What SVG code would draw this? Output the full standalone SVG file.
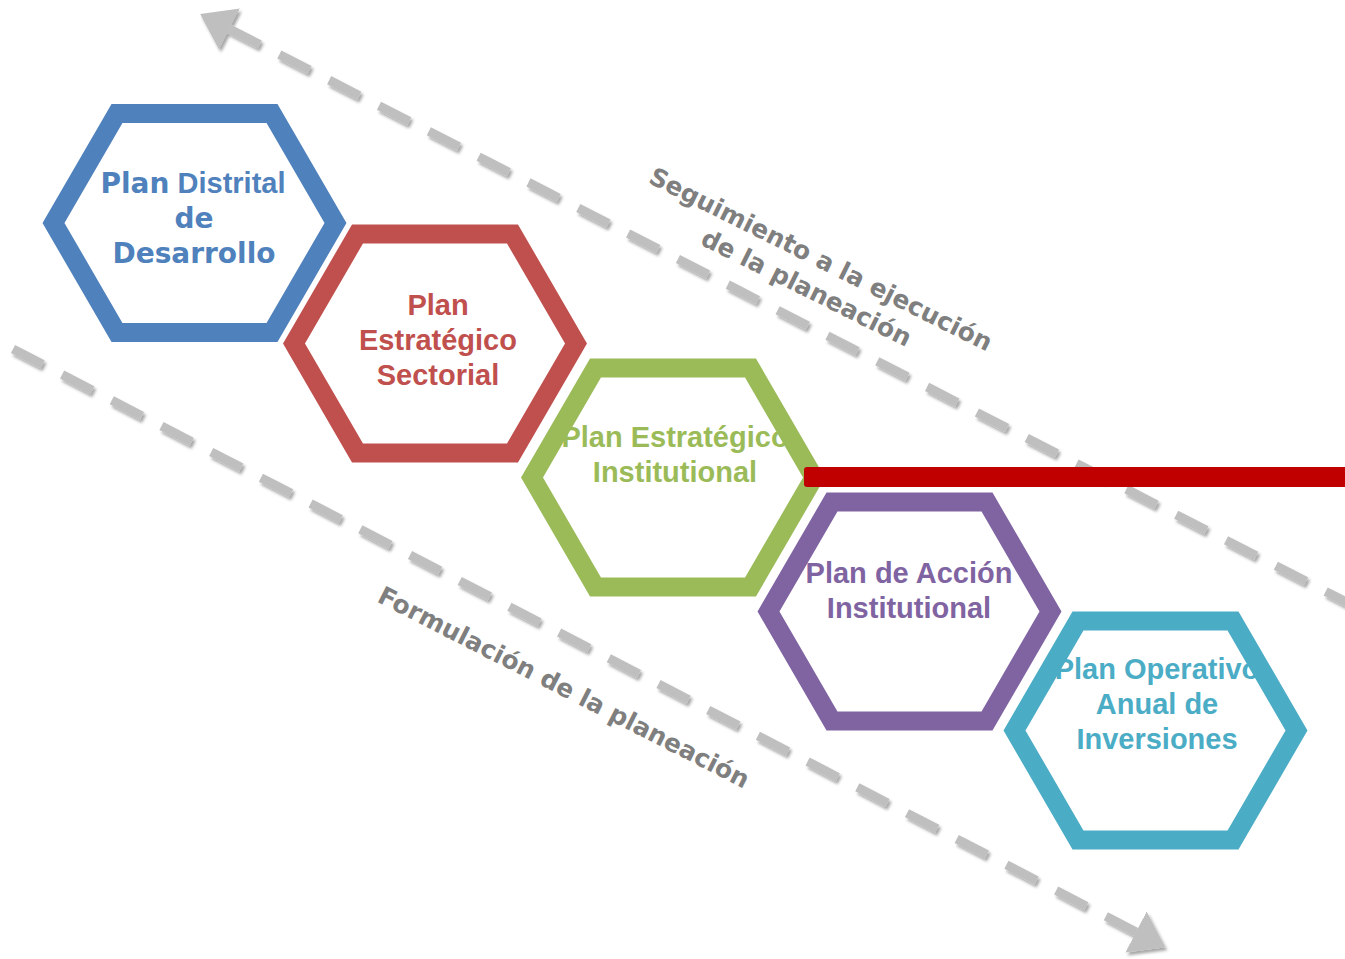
<svg xmlns="http://www.w3.org/2000/svg" xmlns:xlink="http://www.w3.org/1999/xlink" width="1345" height="959" viewBox="0 0 1345 959">
<style>
.bg{fill:#ffffff}
.hex{fill:none;stroke-width:19;stroke-linejoin:miter}
.dash{fill:none;stroke:#bfbfbf;stroke-width:9;stroke-dasharray:34 22}
.lbl{font-family:"Liberation Sans",Arial,sans-serif;font-weight:bold;font-size:29px;text-anchor:middle}
.ver{font-family:"DejaVu Sans",Verdana,sans-serif;font-weight:bold;font-size:28px}
.side{font-family:"DejaVu Sans",Verdana,sans-serif;font-weight:bold;fill:#7f7f7f;text-anchor:middle}
</style>
<defs>
<polygon id="hex" points="-141,0 -77.5,-109.5 77.5,-109.5 141,0 77.5,109.5 -77.5,109.5"/>
<marker id="ah" markerUnits="userSpaceOnUse" markerWidth="40" markerHeight="50" viewBox="0 -25 40 50" refX="0" refY="0" orient="auto-start-reverse">
<path d="M0,-23 L33,0 L0,23 Z" fill="#bfbfbf"/>
</marker>
<filter id="sh" x="-10%" y="-10%" width="120%" height="120%">
<feDropShadow dx="2" dy="3" stdDeviation="1.6" flood-color="#000000" flood-opacity="0.35"/>
</filter>
</defs>
<rect class="bg" x="0" y="0" width="1345" height="959"/>
<g id="connectors" filter="url(#sh)">
<path class="dash" d="M229.5,29 L1360,609" marker-start="url(#ah)"/>
<path class="dash" d="M1136,932 L13,349" marker-start="url(#ah)"/>
</g>
<g id="label-seguimiento" transform="translate(817,267) rotate(26.5)">
<text class="side" x="0" y="0" font-size="25">Seguimiento a la ejecución</text>
<text class="side" x="0" y="32" font-size="25">de la planeación</text>
</g>
<g id="label-formulacion" transform="translate(560,695) rotate(27)">
<text class="side" x="0" y="0" font-size="25">Formulación de la planeación</text>
</g>
<g id="node-pdd">
<text class="lbl" x="193" y="193" fill="#4f81bd"><tspan class="ver">Plan</tspan> Distrital</text>
<text class="lbl ver" x="194" y="228" fill="#4f81bd" text-anchor="middle">de</text>
<text class="lbl ver" x="194" y="263" fill="#4f81bd" text-anchor="middle">Desarrollo</text>
<use xlink:href="#hex" x="194.5" y="223" class="hex" stroke="#4f81bd"/>
</g>
<g id="node-pes">
<text class="lbl" x="438" y="315" fill="#c0504d">Plan</text>
<text class="lbl" x="438" y="350" fill="#c0504d">Estratégico</text>
<text class="lbl" x="438" y="385" fill="#c0504d">Sectorial</text>
<use xlink:href="#hex" x="435" y="343.5" class="hex" stroke="#c0504d"/>
</g>
<g id="node-pei">
<text class="lbl" x="675" y="447" fill="#9bbb59">Plan Estratégico</text>
<text class="lbl" x="675" y="482" fill="#9bbb59">Institutional</text>
<use xlink:href="#hex" x="673" y="477.5" class="hex" stroke="#9bbb59"/>
</g>
<g id="node-pai">
<text class="lbl" x="909" y="583" fill="#8064a2">Plan de Acción</text>
<text class="lbl" x="909" y="618" fill="#8064a2">Institutional</text>
<use xlink:href="#hex" x="909.5" y="611.5" class="hex" stroke="#8064a2"/>
</g>
<g id="node-poai">
<text class="lbl" x="1157" y="679" fill="#4bacc6">Plan Operativo</text>
<text class="lbl" x="1157" y="714" fill="#4bacc6">Anual de</text>
<text class="lbl" x="1157" y="749" fill="#4bacc6">Inversiones</text>
<use xlink:href="#hex" x="1155.5" y="730.5" class="hex" stroke="#4bacc6"/>
</g>
<g id="red-bar">
<rect x="804" y="467" width="560" height="20" rx="3" fill="#c00000"/>
</g>
</svg>
